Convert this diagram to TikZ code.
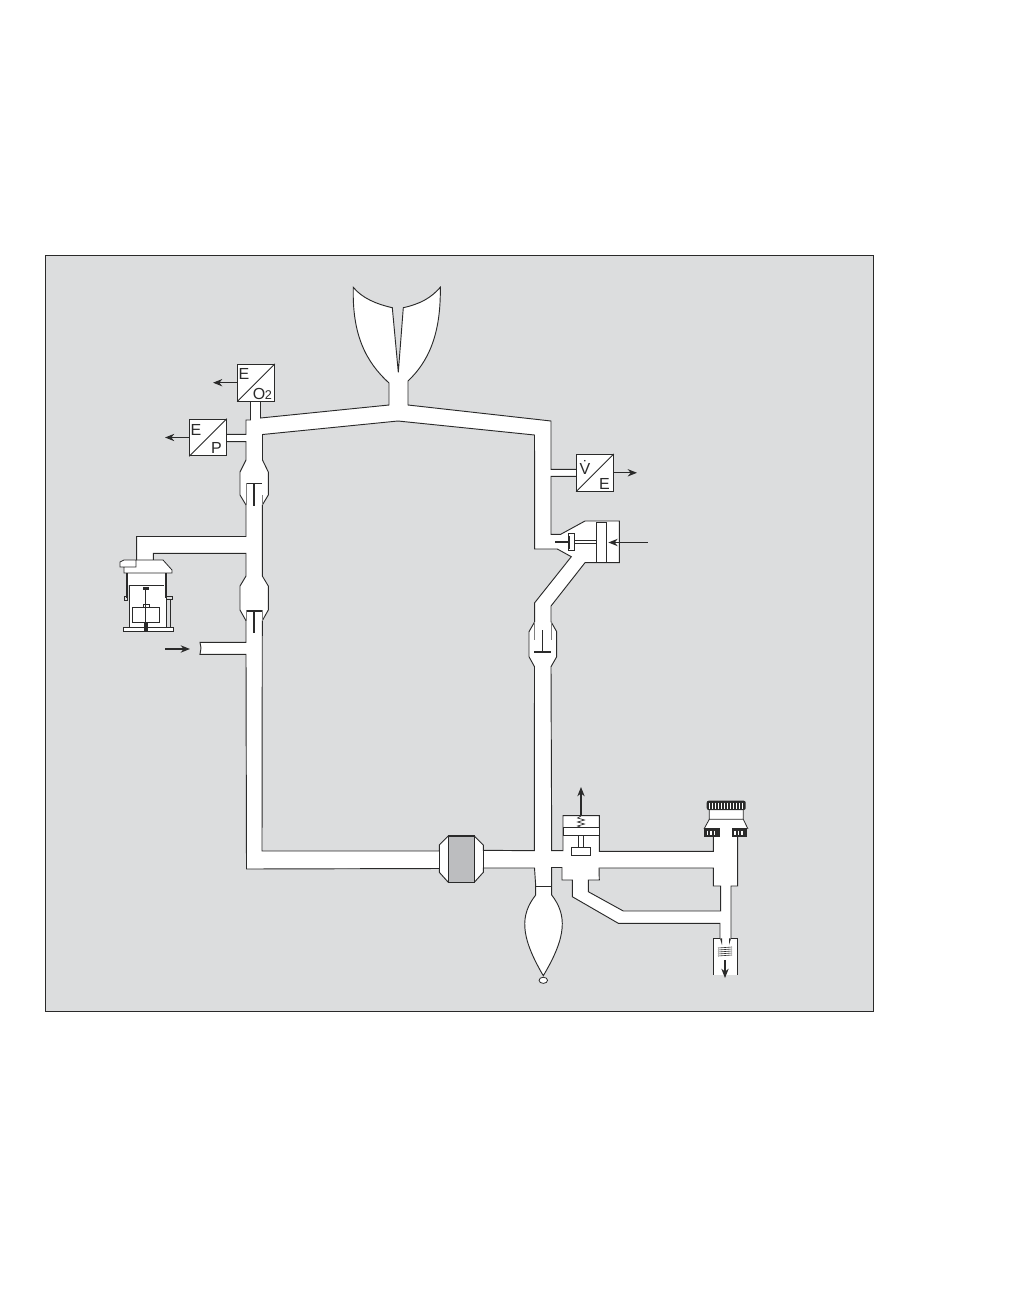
\documentclass[tikz,border=0pt]{standalone}
\usepackage{fontspec}
\setmainfont{Liberation Sans}
\usepackage{tikz}
\usetikzlibrary{calc, arrows.meta, positioning, shapes.geometric}
\definecolor{panelgrey}{HTML}{DCDDDE}
\definecolor{filtergrey}{HTML}{BCBDBF}
\definecolor{edgeblack}{HTML}{2A2A2A}
\tikzset{
  sensorbox/.style={draw=edgeblack, fill=white, line width=0.8pt, minimum size=27.5pt, inner sep=0pt},
  boxlabel/.style={inner sep=0pt, anchor=base, font=\fontsize{12}{13}\selectfont, text=edgeblack},
  tube/.style={draw=edgeblack, fill=white, line width=0.7pt, even odd rule, line join=miter},
  thin part/.style={draw=edgeblack, line width=0.6pt},
  seat line/.style={draw=black!50, line width=0.5pt},
  heavy part/.style={draw=edgeblack, line width=1.5pt},
  arrow part/.style={draw=edgeblack, line width=0.8pt},
}
\begin{document}
\begin{tikzpicture}[x=0.75pt, y=-0.75pt, >={Stealth[length=7pt,width=5.5pt]}]
\useasboundingbox (0,0) rectangle (1008,1296);
\fill[white] (0,0) rectangle (1008,1296);
\draw[draw=edgeblack, fill=panelgrey, line width=0.6pt] (45,255) rectangle (873,1011);

% tubing, outer edge then the two holes
\path[tube]
  (389,383) -- (389,405) -- (260.5,418) -- (260.5,400) -- (250.5,400) -- (250.5,420) -- (246,420)
  -- (246,434.3) -- (226,434.3) -- (226,441.7) -- (246,441.7) -- (246,460) -- (240,472) -- (240,495) -- (246,505)
  -- (246,536.5) -- (136.7,536.5) -- (136.7,561) -- (153.3,561) -- (153.3,553.3) -- (246,553.3)
  -- (246,576) -- (240,586) -- (240,610) -- (246,620.7) -- (246,642.3) -- (200,642.3) -- (201,648) -- (200,654.3) -- (246,654.3)
  -- (246.5,869) -- (439.3,868.5) -- (439.3,872.3) -- (448.3,882.3) -- (474.3,882.3) -- (483.3,872.3) -- (483.3,868)
  -- (534.5,868) -- (535.7,886) -- (535.7,895) .. controls (520,915) and (520,936) .. (543.3,975.7)
  .. controls (567,936) and (567,915) .. (551.7,895) -- (551.7,867.5) -- (562,867.5) -- (562,880) -- (572.3,880)
  -- (572.3,896.7) -- (618.3,923.3) -- (720,923.3) -- (720,939) -- (731,939) -- (731,886) -- (737.7,886) -- (737.7,836)
  -- (713.3,836) -- (713.3,851.3) -- (599.3,851.3) -- (599.3,815.7) -- (563,815.7) -- (563,850.7) -- (551.7,850.7)
  -- (551,666.7) -- (556.7,656.7) -- (556.7,631.7) -- (551,621.7) -- (551,606) -- (585,562.7) -- (619.3,562.7)
  -- (619.3,521) -- (585,521) -- (560.7,534.3) -- (551,534.3) -- (551,476.3) -- (577,476.3) -- (577,469.3) -- (551,469.3)
  -- (551,421) -- (408,405) -- (408,381)
  .. controls (428,362) and (441,335) .. (440.3,287.3)
  .. controls (431,298) and (420,304) .. (403.3,307.7) -- (398.3,372.3) -- (392.3,307.7)
  .. controls (376,304) and (362,298) .. (353.3,287.3)
  .. controls (352,335) and (366,362) .. (389,383) -- cycle
  (262.5,434.5) -- (398,421) -- (534.5,435) -- (534.7,549) -- (557.3,549) -- (571.3,556.7) -- (534.7,602.7) -- (534.7,621.7)
  -- (529,631.7) -- (529,656.7) -- (534.5,666.7) -- (534.3,850.7) -- (483.3,850.3) -- (483.3,845) -- (474.3,836) -- (448.3,836)
  -- (439.3,845) -- (439.3,851) -- (262,851) -- (262.3,620.7) -- (268.3,610) -- (268.3,586) -- (262.3,576) -- (262.3,505)
  -- (268.3,495) -- (268.3,472) -- (262.5,460) -- cycle
  (713.3,868) -- (599,868) -- (599.3,880) -- (588.3,880) -- (588.3,891.7) -- (623.3,911) -- (720.7,911) -- (720.7,886)
  -- (713.3,886) -- cycle;

% sensors
\node[sensorbox] (oxygen) at (256,382.7) {};
\node[sensorbox] (pressure) at (208,437.5) {};
\node[sensorbox] (flow) at (595,472.8) {};
\draw[thin part] (oxygen.south west) -- (oxygen.north east);
\draw[thin part] (pressure.south west) -- (pressure.north east);
\draw[thin part] (flow.south west) -- (flow.north east);
\node[boxlabel] (oxygenE) at (244,379) {E};
\node[boxlabel] (oxygenO) at (259,399) {O};
\node[boxlabel, font=\fontsize{9.5}{10}\selectfont] (oxygentwo) at (268.5,399) {2};
\node[boxlabel] (pressureE) at (196,435) {E};
\node[boxlabel] (pressureP) at (216.5,453) {P};
\node[boxlabel] (flowV) at (585,474) {\.V};
\node[boxlabel] (flowE) at (604.5,489) {E};

\coordinate (oxygenout) at (213,382.7);
\coordinate (pressureout) at (165,437.5);
\coordinate (flowout) at (637,472.8);
\draw[->, arrow part] (oxygen.west) -- (oxygenout);
\draw[->, arrow part] (pressure.west) -- (pressureout);
\draw[->, arrow part] (flow.east) -- (flowout);

% inspiratory and expiratory valves
\draw[seat line] (246,483) -- (246,505) (262.3,495) -- (262.3,505);
\draw[line width=0.9pt, edgeblack] (247,483.3) -- (261.7,483.3) (254,483.3) -- (254,506);
\draw[seat line] (246,610) -- (246,620.7) (262.3,610) -- (262.3,620.7);
\draw[line width=1.4pt, edgeblack] (247,611) -- (262,611);
\draw[line width=1pt, edgeblack] (254,611) -- (254,633);
\draw[seat line] (534.5,621.7) -- (534.5,640) (551,621.7) -- (551,640);
\draw[line width=0.8pt, edgeblack] (542.7,630) -- (542.7,651.7);
\draw[line width=1.4pt, edgeblack] (534.3,651.7) -- (551,651.7);

% fresh gas inlet
\coordinate (inletstart) at (165,649);
\coordinate (inletend) at (190,649);
\draw[->, line width=1pt, edgeblack] (inletstart) -- (inletend);

% PEEP piston
\node[draw=edgeblack, fill=white, line width=0.8pt, minimum width=7.2pt, minimum height=30.5pt, inner sep=0pt] (pistonplate) at (601.7,542.5) {};
\node[draw=edgeblack, fill=white, line width=0.6pt, minimum width=4.6pt, minimum height=13pt, inner sep=0pt] (valveplate) at (571,542) {};
\fill[edgeblack] (567.7,535.5) rectangle (570,549);
\draw[heavy part] (555,541.7) -- (568,541.7);
\draw[thin part] (574.3,540) -- (597,540) (574.3,543.3) -- (597,543.3);
\coordinate (drivein) at (647.7,542.5);
\draw[->, arrow part, shorten >=1pt] (drivein) -- (pistonplate.east);

% absorber
\node[draw=edgeblack, fill=filtergrey, line width=0.9pt, minimum width=19.5pt, minimum height=34.7pt, inner sep=0pt] (absorber) at (461.3,859.2) {};
\draw[thin part] (439.3,845) -- (439.3,872.3) (483.3,845) -- (483.3,872.3);

% breathing bag
\draw[thin part] (535.7,886.3) -- (551.7,886.3);
\node[draw=edgeblack, fill=white, ellipse, line width=0.6pt, minimum width=6.4pt, minimum height=4.6pt, inner sep=0pt] (bagend) at (543.3,980.3) {};

% relief valve
\node[draw=edgeblack, fill=white, line width=0.8pt, minimum width=27.2pt, minimum height=6.3pt, inner sep=0pt] (reliefplate) at (581.2,831.5) {};
\node[draw=edgeblack, fill=white, line width=0.7pt, minimum width=3.5pt, minimum height=8.7pt, inner sep=0pt] (reliefstem) at (581,841.5) {};
\node[draw=edgeblack, fill=white, line width=0.8pt, minimum width=14.5pt, minimum height=6pt, inner sep=0pt] (relieffoot) at (581,851.3) {};
\draw[line width=0.5pt, edgeblack] (581,816) -- (577.5,818) -- (584.5,820) -- (577.5,822) -- (584.5,824) -- (577.5,826) -- (581,827.3);
\coordinate (reliefout) at (581,787);
\draw[->, arrow part] (581,816) -- (reliefout);

% scavenger chamber
\fill[white] (713.3,937.8) rectangle (737.5,975);
\draw[tube, fill=none] (720,938.3) -- (713.3,938.3) -- (713.3,975);
\draw[tube, fill=none] (731,938.3) -- (737.5,938.3) -- (737.5,975);
\fill[edgeblack] (720,938.3) -- (722,938.3) -- (722,945) -- cycle;
\fill[edgeblack] (731,938.3) -- (729,938.3) -- (729,945) -- cycle;
\foreach \y in {948,950,952,954,956} {
  \draw[line width=0.45pt, edgeblack] (718,\y) -- (732,\y-1);
}
\coordinate (chambertop) at (725,960);
\coordinate (chamberout) at (725,978);
\draw[->, arrow part] (chambertop) -- (chamberout);

% knob
\fill[white] (709.3,810) -- (743.3,810) -- (743.3,819.3) -- (748,829) -- (704,829) -- (709.3,819.3) -- cycle;
\draw[thin part] (709.3,810) -- (709.3,819.3) -- (704,829) (743.3,810) -- (743.3,819.3) -- (748,829) (709.3,819.3) -- (743.3,819.3);
\fill[edgeblack, rounded corners=1.5pt] (706.7,800.7) rectangle (745.7,810);
\foreach \x in {709.5,712.5,...,743} {
  \draw[white, line width=0.7pt] (\x,802.5) -- (\x,808.5);
}
\fill[edgeblack] (704,828.3) rectangle (747.3,836.7);
\fill[white] (720,828.3) rectangle (731.7,836.7);
\foreach \x in {707.5,711,714.5,735,738.5,742} {
  \draw[white, line width=0.8pt] (\x,830.5) -- (\x,835);
}

% vaporiser
\fill[white] (120,562) -- (124,560) -- (163,560) -- (172,570) -- (172,573) -- (167,573) -- (167,585) -- (166,628) -- (129,628) -- (129,585) -- (127,585) -- (127,573) -- (124,573) -- (124,567) -- (120,567) -- cycle;
\draw[thin part] (120,562) -- (124,560) -- (163,560) -- (172,570) -- (172,573) -- (124,573) -- (124,567) -- (120,567) -- cycle (136,560) -- (136,567) -- (124,567);
\draw[line width=1pt, edgeblack] (127,573) -- (127,598) (166,573) -- (166,598);
\draw[thin part] (130,585) -- (164,585) (129,585) -- (129,628) (166,598) -- (166,628) (170,600) -- (170,628);
\draw[thin part] (124,596) rectangle (127,600) (166,596.5) rectangle (172,599.5);
\node[draw=edgeblack, fill=white, line width=0.6pt, minimum width=20.5pt, minimum height=11.5pt, inner sep=0pt] (floatblock) at (146,615) {};
\node[draw=edgeblack, fill=white, line width=0.5pt, minimum width=4.5pt, minimum height=2.5pt, inner sep=0pt] (floatcap) at (146,606) {};
\fill[edgeblack] (143,587) rectangle (149,590);
\draw[line width=1pt, edgeblack] (145.7,590) -- (145.7,631);
\draw[line width=0.7pt, edgeblack, fill=white] (123.3,627.7) rectangle (173.3,631);
\fill[edgeblack] (144,622) rectangle (147.5,631);
\end{tikzpicture}
\end{document}
